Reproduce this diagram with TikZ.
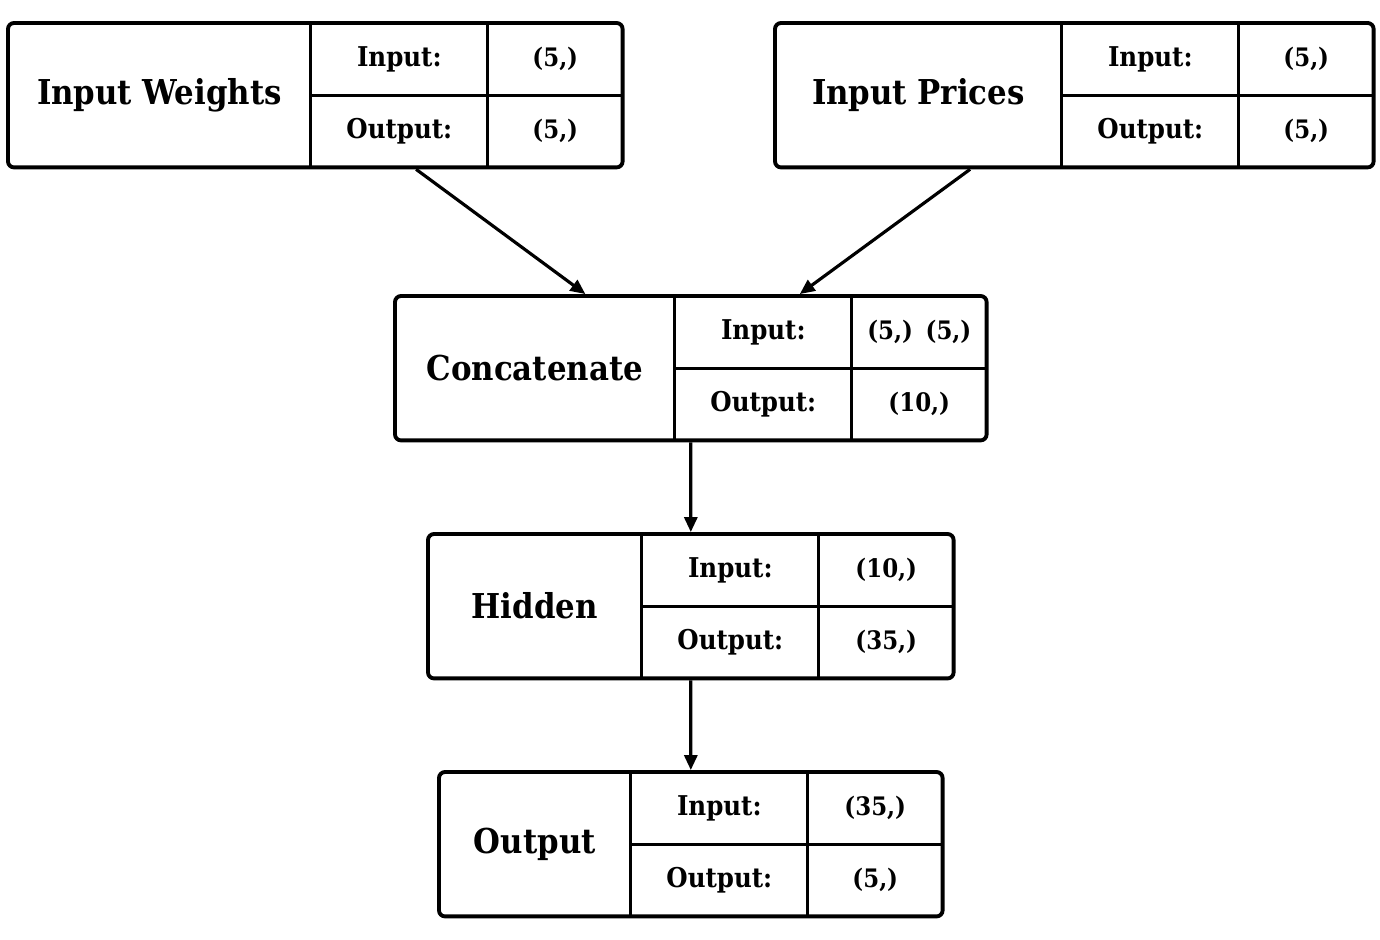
\documentclass[tikz,border=0pt]{standalone}
\usepackage{fontspec}
\setmainfont{DejaVu Serif Condensed}
\usetikzlibrary{arrows.meta, positioning, calc, fit}

\begin{document}
\begin{tikzpicture}[
        namecell/.style={rectangle, anchor=north west, minimum height=2.86cm, inner sep=0pt, font=\fontsize{19.5}{23}\selectfont\bfseries},
        keycell/.style={rectangle, minimum width=3.53cm, minimum height=1.43cm, inner sep=0pt, font=\fontsize{15.5}{18}\selectfont\bfseries},
        valcell/.style={rectangle, minimum width=2.68cm, minimum height=1.43cm, inner sep=0pt, font=\fontsize{14.5}{17}\selectfont\bfseries},
        frame/.style={rectangle, draw=black, line width=2.2pt, rounded corners=0.12cm, inner sep=0pt},
        rule/.style={line width=1.7pt},
        arrow/.style={-{Triangle[length=0.3cm, width=0.26cm]}, line width=1.8pt}
    ]
        \useasboundingbox (0,0) rectangle (27.6,-18.8);

        % Input Weights
        \node[namecell, minimum width=6.04cm] (w) at (0.16,-0.46) {Input Weights};
        \node[keycell, anchor=north west] (wi) at (w.north east) {Input:};
        \node[keycell, below=0pt of wi] (wo) {Output:};
        \node[valcell, right=0pt of wi] (wiv) {(5,)};
        \node[valcell, right=0pt of wo] (wov) {(5,)};
        \node[frame, fit=(w)(wov)] (wbox) {};
        \draw[rule] (w.north east) -- (w.south east);
        \draw[rule] (wi.north east) -- (wo.south east);
        \draw[rule] (wi.south west) -- (wiv.south east);

        % Input Prices
        \node[namecell, minimum width=5.72cm] (p) at (15.5,-0.46) {Input Prices};
        \node[keycell, anchor=north west] (pi) at (p.north east) {Input:};
        \node[keycell, below=0pt of pi] (po) {Output:};
        \node[valcell, right=0pt of pi] (piv) {(5,)};
        \node[valcell, right=0pt of po] (pov) {(5,)};
        \node[frame, fit=(p)(pov)] (pbox) {};
        \draw[rule] (p.north east) -- (p.south east);
        \draw[rule] (pi.north east) -- (po.south east);
        \draw[rule] (pi.south west) -- (piv.south east);

        % Concatenate
        \node[namecell, minimum width=5.58cm] (c) at (7.9,-5.92) {Concatenate};
        \node[keycell, anchor=north west] (ci) at (c.north east) {Input:};
        \node[keycell, below=0pt of ci] (co) {Output:};
        \node[valcell, right=0pt of ci] (civ) {(5,)\enspace(5,)};
        \node[valcell, right=0pt of co] (cov) {(10,)};
        \node[frame, fit=(c)(cov)] (cbox) {};
        \draw[rule] (c.north east) -- (c.south east);
        \draw[rule] (ci.north east) -- (co.south east);
        \draw[rule] (ci.south west) -- (civ.south east);

        % Hidden
        \node[namecell, minimum width=4.26cm] (h) at (8.56,-10.68) {Hidden};
        \node[keycell, anchor=north west] (hi) at (h.north east) {Input:};
        \node[keycell, below=0pt of hi] (ho) {Output:};
        \node[valcell, right=0pt of hi] (hiv) {(10,)};
        \node[valcell, right=0pt of ho] (hov) {(35,)};
        \node[frame, fit=(h)(hov)] (hbox) {};
        \draw[rule] (h.north east) -- (h.south east);
        \draw[rule] (hi.north east) -- (ho.south east);
        \draw[rule] (hi.south west) -- (hiv.south east);

        % Output
        \node[namecell, minimum width=3.82cm] (o) at (8.78,-15.44) {Output};
        \node[keycell, anchor=north west] (oi) at (o.north east) {Input:};
        \node[keycell, below=0pt of oi] (oo) {Output:};
        \node[valcell, right=0pt of oi] (oiv) {(35,)};
        \node[valcell, right=0pt of oo] (oov) {(5,)};
        \node[frame, fit=(o)(oov)] (obox) {};
        \draw[rule] (o.north east) -- (o.south east);
        \draw[rule] (oi.north east) -- (oo.south east);
        \draw[rule] (oi.south west) -- (oiv.south east);

        % Arrows
        \draw[arrow] ($(wbox.south west)!0.663!(wbox.south east)$) -- ($(cbox.north west)!0.323!(cbox.north east)$);
        \draw[arrow] ($(pbox.south west)!0.327!(pbox.south east)$) -- ($(cbox.north west)!0.683!(cbox.north east)$);
        \draw[arrow] (cbox.south) -- (hbox.north);
        \draw[arrow] (hbox.south) -- (obox.north);
    \end{tikzpicture}
\end{document}
